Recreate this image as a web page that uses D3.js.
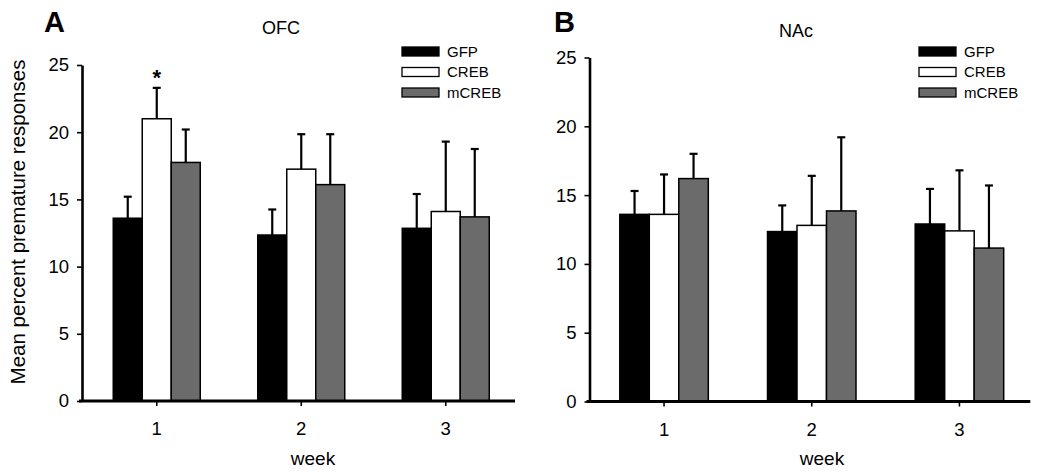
<!DOCTYPE html>
<html>
<head>
<meta charset="utf-8">
<script src="https://cdn.jsdelivr.net/npm/d3@7"></script>
<style>
  body { margin: 0; background: #fff; }
  text { font-family: "Liberation Sans", Arial, sans-serif; fill: #000; }
</style>
</head>
<body>
<svg id="chart" width="1050" height="476"></svg>
<script>
// categories
const weeks = ['1', '2', '3'];
const groups = ['GFP', 'CREB', 'mCREB'];
const yTicks = [0, 5, 10, 15, 20, 25];

// OFC means (% premature responses) and upper SEM
const ofcGFP = [13.6, 12.35, 12.85];
const ofcCREB = [21.0, 17.25, 14.1];
const ofcMCREB = [17.75, 16.1, 13.7];
const ofcGFPErr = [1.6, 1.9, 2.55];
const ofcCREBErr = [2.3, 2.6, 5.2];
const ofcMCREBErr = [2.45, 3.75, 5.05];

// NAc means and upper SEM
const nacGFP = [13.6, 12.35, 12.9];
const nacCREB = [13.6, 12.8, 12.4];
const nacMCREB = [16.2, 13.85, 11.15];
const nacGFPErr = [1.7, 1.9, 2.55];
const nacCREBErr = [2.9, 3.6, 4.4];
const nacMCREBErr = [1.8, 5.35, 4.55];

const colors = { GFP: '#000000', CREB: '#ffffff', mCREB: '#6b6b6b' };

const svg = d3.select('#chart');

function rows(means, errs) {
    const out = [];
    weeks.forEach((w, i) => {
        groups.forEach((g, j) => {
            out.push({ week: w, group: g, mean: means[j][i], err: errs[j][i] });
        });
    });
    return out;
}

function drawPanel(p) {
    const data = rows(p.means, p.errs);
    const g = svg.append('g');

    const x = d3.scaleBand().domain(weeks).range(p.xRange);
    const xg = d3.scaleBand().domain(groups)
        .range([-1.5 * p.barW, 1.5 * p.barW]);
    const y = d3.scaleLinear().domain([0, 25]).range(p.yRange);
    const cx = d => x(d.week) + x.bandwidth() / 2 + xg(d.group);

    /* bars */
    g.selectAll('rect.bar')
        .data(data).enter()
        .append('rect')
        .attr('class', 'bar')
        .attr('x', d => cx(d))
        .attr('y', d => y(d.mean))
        .attr('width', xg.bandwidth())
        .attr('height', d => y(0) - y(d.mean))
        .attr('fill', d => colors[d.group])
        .attr('stroke', '#000')
        .attr('stroke-width', 1.5);

    /* error bars (upper only) */
    g.selectAll('line.err')
        .data(data).enter()
        .append('line')
        .attr('x1', d => cx(d) + xg.bandwidth() / 2)
        .attr('x2', d => cx(d) + xg.bandwidth() / 2)
        .attr('y1', d => y(d.mean))
        .attr('y2', d => y(d.mean + d.err))
        .attr('stroke', '#000')
        .attr('stroke-width', 2.2);
    g.selectAll('line.cap')
        .data(data).enter()
        .append('line')
        .attr('x1', d => cx(d) + xg.bandwidth() / 2 - 4)
        .attr('x2', d => cx(d) + xg.bandwidth() / 2 + 4)
        .attr('y1', d => y(d.mean + d.err))
        .attr('y2', d => y(d.mean + d.err))
        .attr('stroke', '#000')
        .attr('stroke-width', 2.2);

    /* y axis */
    const yAxis = g.append('g')
        .attr('transform', `translate(${p.axisX}, 0)`)
        .call(d3.axisLeft(y).tickValues(yTicks).tickSize(5).tickSizeOuter(0).tickPadding(8));
    yAxis.select('.domain').attr('stroke-width', 2.6);
    yAxis.selectAll('.tick line').attr('stroke-width', 1.6);
    yAxis.selectAll('text').style('font-size', '18.5px');

    /* x axis */
    const xAxis = g.append('g')
        .attr('transform', `translate(0, ${y(0)})`)
        .call(d3.axisBottom(x).tickSize(5).tickSizeOuter(0).tickPadding(16));
    xAxis.select('.domain')
        .attr('d', `M${p.axisX - 3},0H${p.xRange[1] - 3}`)
        .attr('stroke-width', 3);
    xAxis.selectAll('.tick line').attr('stroke-width', 1.6);
    xAxis.selectAll('text').style('font-size', '18.5px');

    /* panel letter and title */
    g.append('text')
        .attr('x', p.letterX).attr('y', 32)
        .style('font-size', '29px').style('font-weight', 'bold')
        .text(p.letter);
    g.append('text')
        .attr('x', p.titleX).attr('y', p.titleY)
        .style('font-size', '18px')
        .text(p.title);

    /* week label */
    g.append('text')
        .attr('x', p.weekX).attr('y', 465)
        .attr('text-anchor', 'middle')
        .style('font-size', '19px')
        .text('week');

    /* legend */
    const leg = g.append('g').attr('transform', `translate(${p.legendX}, 47)`);
    groups.forEach((name, i) => {
        leg.append('rect')
            .attr('x', 0).attr('y', i * 20.5)
            .attr('width', 37).attr('height', 9)
            .attr('fill', colors[name])
            .attr('stroke', '#000').attr('stroke-width', 1.3);
        leg.append('text')
            .attr('x', 45).attr('y', i * 20.5 + 4.5)
            .attr('dy', '0.36em')
            .style('font-size', '15px')
            .text(name);
    });

    /* significance marker */
    if (p.star) {
        const d = data.find(r => r.week === p.star.week && r.group === p.star.group);
        g.append('text')
            .attr('x', cx(d) + xg.bandwidth() / 2)
            .attr('y', y(d.mean + d.err) - 3)
            .attr('text-anchor', 'middle')
            .style('font-size', '22px').style('font-weight', 'bold')
            .text('*');
    }
}

drawPanel({
    letter: 'A', title: 'OFC',
    means: [ofcGFP, ofcCREB, ofcMCREB],
    errs: [ofcGFPErr, ofcCREBErr, ofcMCREBErr],
    xRange: [84.5, 518], yRange: [401, 65], axisX: 82, barW: 29,
    letterX: 44, titleX: 262, titleY: 34, weekX: 313, legendX: 402,
    star: { week: '1', group: 'CREB' }
});

drawPanel({
    letter: 'B', title: 'NAc',
    means: [nacGFP, nacCREB, nacMCREB],
    errs: [nacGFPErr, nacCREBErr, nacMCREBErr],
    xRange: [590.2, 1033.3], yRange: [401.5, 57.5], axisX: 589.5, barW: 29.5,
    letterX: 554, titleX: 779, titleY: 37, weekX: 822, legendX: 919
});

/* shared y label */
svg.append('text')
    .attr('transform', 'translate(25, 222) rotate(-90)')
    .attr('text-anchor', 'middle')
    .style('font-size', '20.5px')
    .text('Mean percent premature responses');
</script>
</body>
</html>
